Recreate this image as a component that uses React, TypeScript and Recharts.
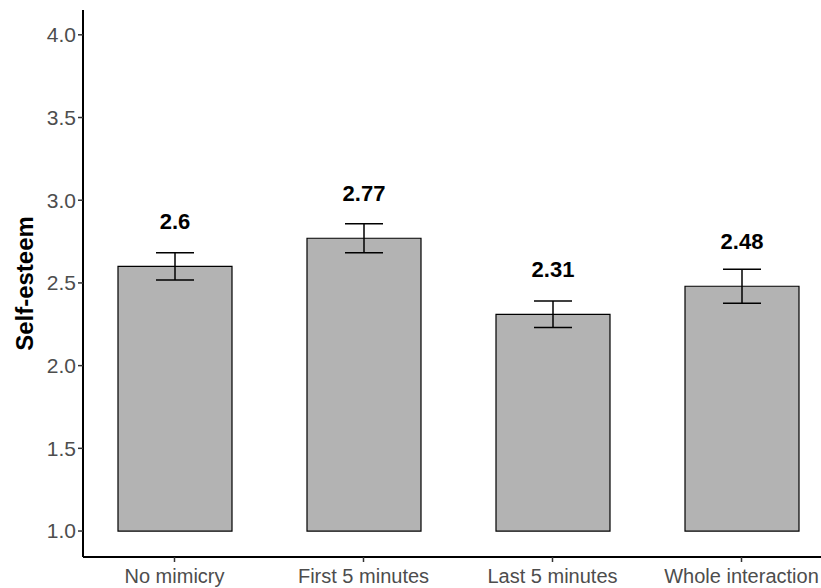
import { Bar, BarChart, ErrorBar, LabelList, XAxis, YAxis } from 'recharts';

const categories = ['No mimicry', 'First 5 minutes', 'Last 5 minutes', 'Whole interaction'];
const means = [2.6, 2.77, 2.31, 2.48];
const errors = [0.082, 0.088, 0.08, 0.103];
const yTicks = [1.0, 1.5, 2.0, 2.5, 3.0, 3.5, 4.0];
const baseline = 1.0;

const data = categories.map((name, i) => ({
  name,
  range: [baseline, means[i]],
  mean: means[i],
  err: errors[i],
}));

const font = '"Liberation Sans", Arial, Helvetica, sans-serif';

const SelfEsteemChart = () => (
  <div style={{ position: 'absolute', left: 0, top: 0, width: 821, height: 588, overflow: 'hidden', background: '#fff' }}>
    <BarChart width={840} height={588} data={data} margin={{ top: 10, right: 5, bottom: 0, left: 0 }}>
      <XAxis
        dataKey="name"
        height={31}
        tickSize={5}
        tickMargin={7}
        padding={{ left: -3, right: -1 }}
        axisLine={{ stroke: '#000', strokeWidth: 2 }}
        tickLine={{ stroke: '#333', strokeWidth: 1.5 }}
        tick={{ fill: '#4d4d4d', fontSize: 20, fontFamily: font }}
      />
      <YAxis
        width={83}
        type="number"
        domain={[0.843, 4.15]}
        ticks={yTicks}
        tickFormatter={(v: number) => v.toFixed(1)}
        tickSize={5}
        axisLine={{ stroke: '#000', strokeWidth: 2 }}
        tickLine={{ stroke: '#333', strokeWidth: 1.5 }}
        tick={{ fill: '#4d4d4d', fontSize: 21, fontFamily: font }}
        label={{
          value: 'Self-esteem',
          angle: -90,
          position: 'insideLeft',
          offset: 24,
          style: { fill: '#000', fontSize: 24, fontWeight: 'bold', fontFamily: font, textAnchor: 'middle' },
        }}
      />
      <Bar dataKey="range" fill="#b3b3b3" stroke="#000" strokeWidth={1.2} barSize={114} isAnimationActive={false}>
        <ErrorBar dataKey="err" width={19} stroke="#000" strokeWidth={1.5} direction="y" />
        <LabelList
          dataKey="mean"
          position="top"
          offset={37}
          style={{ fill: '#000', fontSize: 22, fontWeight: 'bold', fontFamily: font }}
        />
      </Bar>
    </BarChart>
  </div>
);

export default function App() {
  return <SelfEsteemChart />;
}
